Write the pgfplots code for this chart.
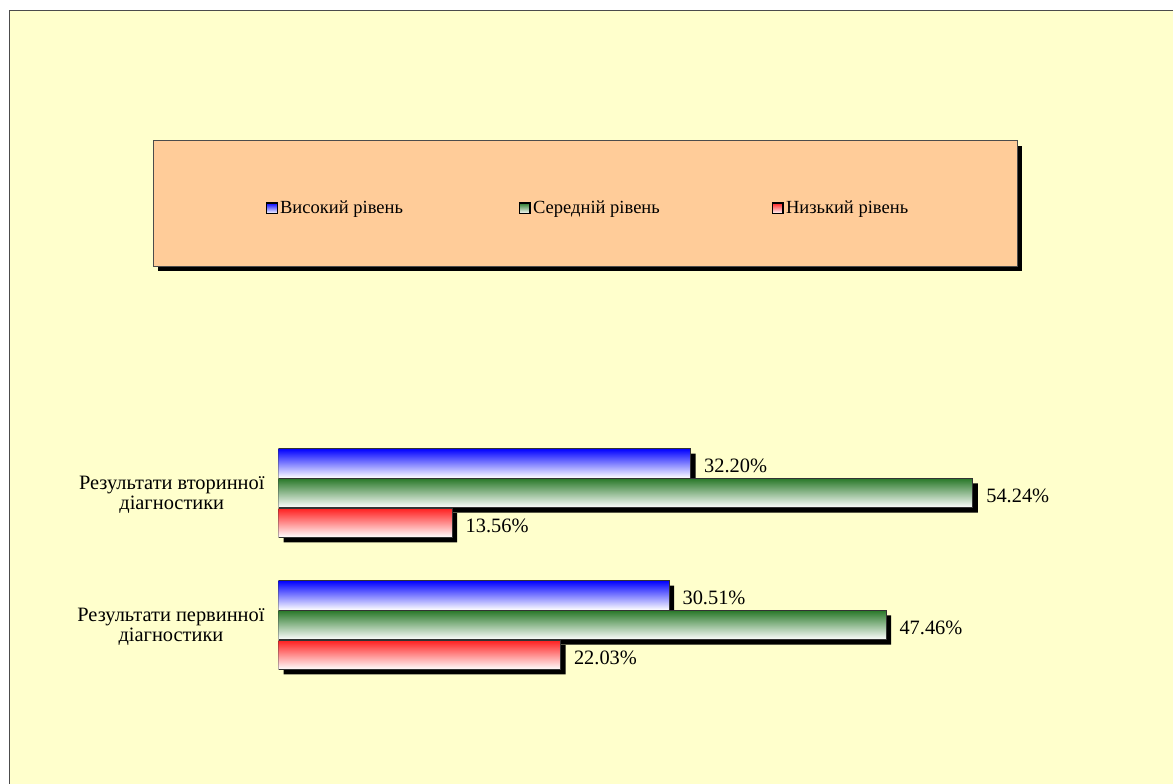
\documentclass[border=0pt]{standalone}
\usepackage{fontspec}
\setmainfont{Liberation Serif}
\usepackage{pgfplots}
\pgfplotsset{compat=1.18}
\definecolor{bgyellow}{RGB}{255,255,204}
\definecolor{legorange}{RGB}{255,204,153}
\definecolor{bargreen}{RGB}{40,120,40}
\definecolor{barred}{RGB}{255,30,30}
\definecolor{barblue}{RGB}{0,0,255}
\newcommand\ff{\fontsize{15.3}{15}\selectfont}
\newcommand\lf{\fontsize{13.9}{16}\selectfont}
\begin{document}
\begin{tikzpicture}
\useasboundingbox (0,0) rectangle (879.75pt,-588pt);
\fill[white] (0,0) rectangle (879.75pt,-588pt);
\fill[bgyellow] (6.75pt,-8.25pt) rectangle (879.75pt,-588pt);
\draw[black!70, line width=0.75pt] (6.75pt,-588pt) -- (6.75pt,-8.25pt) -- (879.75pt,-8.25pt);
% legend frame
\fill[black] (118.5pt,-109.5pt) rectangle (766.5pt,-203.25pt);
\filldraw[fill=legorange, draw=black!70, line width=0.75pt] (114.75pt,-105.75pt) rectangle (762.75pt,-199.5pt);
\begin{axis}[
  at={(208.9pt,-518.25pt)}, anchor=south west,
  scale only axis, width=576pt, height=198pt,
  xmin=0, xmax=60, ymin=-0.5, ymax=1.5,
  xbar, bar width=22pt,
  axis lines*=left, axis line style={draw=none},
  xtick=\empty, ytick={0,1},
  yticklabels={{Результати первинної\\діагностики},{Результати вторинної\\діагностики}},
  yticklabel style={align=center, font=\ff, xshift=-7pt, yshift=-1.5pt},
  major tick length=0pt, tick style={draw=none},
  /pgf/number format/assume math mode=true,
  point meta=x,
  every node near coord/.append style={font=\ff, black, xshift=6.5pt, yshift=-2pt},
  legend columns=3,
  legend style={at={(-0.0165,1.829)}, anchor=west, draw=none, fill=none,
    inner sep=0pt, outer sep=0pt, column sep=0pt, font=\lf, nodes={inner sep=1.5pt}},
  legend image code/.code={\draw[#1] (0pt,-4pt) rectangle (8pt,4pt);},
  legend cell align=left,
  sh/.style={fill=black, draw=none, xshift=3.75pt, yshift=-3.75pt, forget plot},
  bb/.style={shading=axis, top color=#1, bottom color=white, draw=black!80, line width=0.6pt, forget plot,
    nodes near coords={\pgfmathprintnumber[fixed,fixed zerofill,precision=2]{\pgfplotspointmeta}\%}},
]
\addlegendimage{shading=axis, top color=barblue, bottom color=white, draw=black, line width=1.2pt}
\addlegendentry{\makebox[177.5pt][l]{Високий рівень}}
\addlegendimage{shading=axis, top color=bargreen, bottom color=white, draw=black, line width=1.2pt}
\addlegendentry{\makebox[177.5pt][l]{Середній рівень}}
\addlegendimage{shading=axis, top color=barred, bottom color=white, draw=black, line width=1.2pt}
\addlegendentry{Низький рівень}
% blue
\addplot[sh, bar shift=22.3pt] coordinates {(30.51,0) (32.20,1)};
\addplot[bb=barblue, bar shift=22.3pt] coordinates {(30.51,0)};
\addplot[bb=barblue, bar shift=22.3pt] coordinates {(32.20,1)};
% green
\addplot[sh, bar shift=0pt] coordinates {(47.46,0) (54.24,1)};
\addplot[bb=bargreen, bar shift=0pt] coordinates {(47.46,0)};
\addplot[bb=bargreen, bar shift=0pt] coordinates {(54.24,1)};
% red
\addplot[sh, bar shift=-22.3pt] coordinates {(22.03,0) (13.56,1)};
\addplot[bb=barred, bar shift=-22.3pt] coordinates {(22.03,0)};
\addplot[bb=barred, bar shift=-22.3pt] coordinates {(13.56,1)};
\end{axis}
\end{tikzpicture}
\end{document}
